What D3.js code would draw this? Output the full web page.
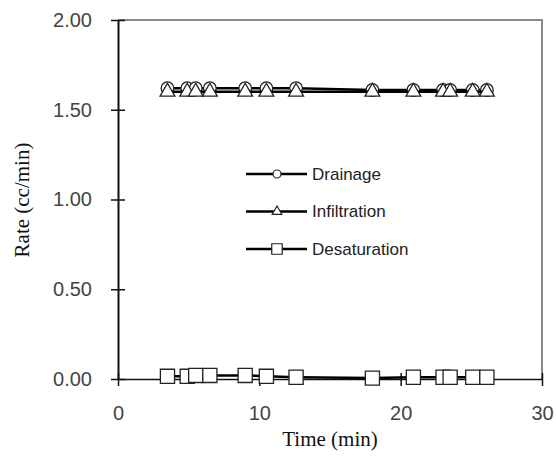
<!DOCTYPE html>
<html>
<head>
<meta charset="utf-8">
<script src="https://cdn.jsdelivr.net/npm/d3@7"></script>
<style>
  body { margin: 0; background: #fff; }
  svg { display: block; }
</style>
</head>
<body>
<div id="chart"></div>
<script>
// data
var times = [3.5, 4.9, 5.5, 6.5, 9.0, 10.5, 12.6, 18.0, 20.9, 23.0, 23.5, 25.1, 26.1];
var drainage = [1.62, 1.62, 1.62, 1.62, 1.62, 1.62, 1.62, 1.61, 1.61, 1.61, 1.61, 1.61, 1.61];
var infiltration = [1.60, 1.60, 1.60, 1.60, 1.60, 1.60, 1.60, 1.60, 1.60, 1.60, 1.60, 1.60, 1.60];
var desaturation = [0.015, 0.015, 0.02, 0.02, 0.02, 0.015, 0.01, 0.005, 0.01, 0.01, 0.01, 0.01, 0.01];
var seriesNames = ["Drainage", "Infiltration", "Desaturation"];
var xTicks = [0, 10, 20, 30];
var yTicks = [0, 0.5, 1.0, 1.5, 2.0];

var width = 556, height = 463;

var svg = d3.select("#chart").append("svg")
    .attr("width", width)
    .attr("height", height);

var x = d3.scaleLinear().domain([0, 30]).range([118, 542]);
var y = d3.scaleLinear().domain([0, 2]).range([379, 20]);

// grey plot frame (top and right)
svg.append("path")
    .attr("d", "M" + x(0) + "," + y(2) + "H" + x(30) + "V" + y(0))
    .attr("fill", "none")
    .attr("stroke", "#8a8a8a")
    .attr("stroke-width", 2);

// y axis
var yAxis = d3.axisLeft(y).tickValues(yTicks).tickSize(0).tickPadding(26)
    .tickFormat(d3.format(".2f"));
var gy = svg.append("g").attr("transform", "translate(" + x(0) + ",0)").call(yAxis);
gy.select(".domain").attr("stroke", "#111").attr("stroke-width", 2);
gy.selectAll(".tick line").remove();
gy.selectAll(".tick").append("line")
    .attr("x1", -7).attr("x2", 7)
    .attr("stroke", "#111").attr("stroke-width", 1.5);
gy.selectAll("text")
    .attr("font-family", "Liberation Sans, Arial, sans-serif")
    .attr("font-size", 20)
    .attr("fill", "#444");

// x axis
var xAxis = d3.axisBottom(x).tickValues(xTicks).tickSize(0).tickPadding(27);
var gx = svg.append("g").attr("transform", "translate(0," + y(0) + ")").call(xAxis);
gx.select(".domain").attr("stroke", "#111").attr("stroke-width", 1.5);
gx.selectAll(".tick line").remove();
gx.selectAll(".tick").append("line")
    .attr("y1", -6).attr("y2", 7)
    .attr("stroke", "#111").attr("stroke-width", 1.5);
gx.selectAll("text")
    .attr("font-family", "Liberation Sans, Arial, sans-serif")
    .attr("font-size", 20)
    .attr("fill", "#444");

// axis titles
svg.append("text")
    .attr("x", (x(0) + x(30)) / 2)
    .attr("y", 446)
    .attr("text-anchor", "middle")
    .attr("font-family", "Liberation Serif, Times New Roman, serif")
    .attr("font-size", 21)
    .attr("fill", "#111")
    .text("Time (min)");

svg.append("text")
    .attr("transform", "translate(29,200) rotate(-90)")
    .attr("text-anchor", "middle")
    .attr("font-family", "Liberation Serif, Times New Roman, serif")
    .attr("font-size", 21)
    .attr("fill", "#111")
    .text("Rate (cc/min)");

var series = [
    { name: seriesNames[0], values: drainage, shape: d3.symbolCircle, size: 125, lsize: 50 },
    { name: seriesNames[1], values: infiltration, shape: d3.symbolTriangle, size: 95, lsize: 40 },
    { name: seriesNames[2], values: desaturation, shape: d3.symbolSquare, size: 200, lsize: 110 }
];

var line = d3.line()
    .x(function (d) { return x(d[0]); })
    .y(function (d) { return y(d[1]); });

series.forEach(function (s) {
    var pts = times.map(function (t, i) { return [t, s.values[i]]; });
    svg.append("path")
        .datum(pts)
        .attr("d", line)
        .attr("fill", "none")
        .attr("stroke", "#000")
        .attr("stroke-width", 2.5);
    svg.append("g").selectAll("path")
        .data(pts)
        .enter().append("path")
        .attr("transform", function (d) { return "translate(" + x(d[0]) + "," + y(d[1]) + ")"; })
        .attr("d", d3.symbol().type(s.shape).size(s.size))
        .attr("fill", "#fff")
        .attr("stroke", "#222")
        .attr("stroke-width", 1.3);
});

// legend
var legend = svg.append("g");
var rows = legend.selectAll("g")
    .data(series)
    .enter().append("g")
    .attr("transform", function (d, i) { return "translate(246," + (174 + i * 37.5) + ")"; });
rows.append("line")
    .attr("x1", 0).attr("x2", 61)
    .attr("stroke", "#000").attr("stroke-width", 2.5);
rows.append("path")
    .attr("transform", "translate(31,0)")
    .attr("d", function (d) { return d3.symbol().type(d.shape).size(d.lsize)(); })
    .attr("fill", "#fff")
    .attr("stroke", "#222")
    .attr("stroke-width", 1.2);
rows.append("text")
    .attr("x", 66)
    .attr("dy", "0.35em")
    .attr("font-family", "Liberation Sans, Arial, sans-serif")
    .attr("font-size", 17)
    .attr("fill", "#222")
    .text(function (d) { return d.name; });
</script>
</body>
</html>
